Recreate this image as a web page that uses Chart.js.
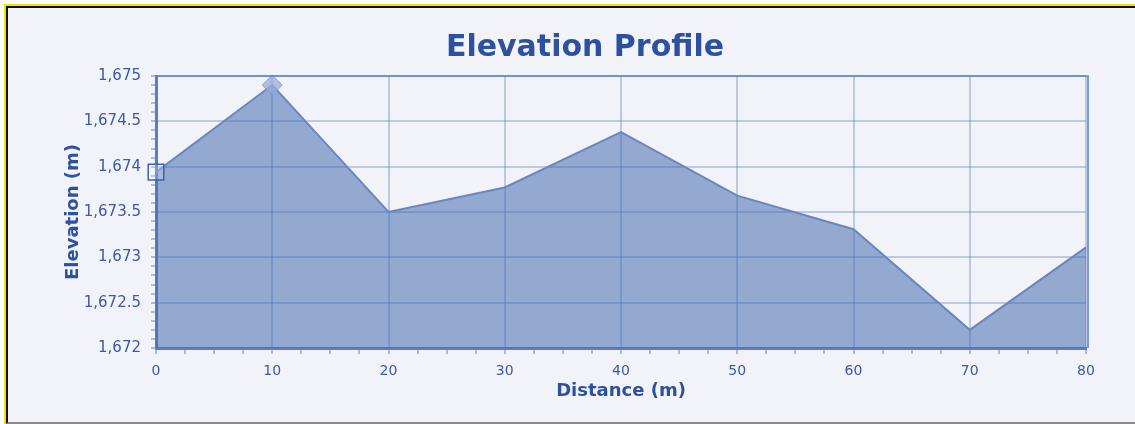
<!DOCTYPE html>
<html>
<head>
<meta charset="utf-8">
<script src="https://cdn.jsdelivr.net/npm/chart.js@4/dist/chart.umd.min.js"></script>
<style>
    html, body { margin: 0; padding: 0; background: #ffffff; }
    #frame {
        position: absolute; left: 4px; top: 4px; right: 0; bottom: 0;
        border-top: 2px solid #efe400; border-left: 2px solid #efe400;
    }
    #inner {
        position: absolute; left: 0; top: 0; right: 0; bottom: 0;
        border-top: 2px solid #111; border-left: 2px solid #111;
        border-bottom: 2px solid #8a8a8a;
        background: #f1f3f8;
    }
    #wrap { position: absolute; left: 0; top: 0; width: 1135px; height: 424px; }
    #chartTitle {
        position: absolute; left: 0; top: 28px; width: 1170px;
        text-align: center; line-height: 36px;
        font: bold 30px "DejaVu Sans", sans-serif; color: #2d519f;
    }
</style>
</head>
<body>
<div id="frame"><div id="inner"></div></div>
<div id="wrap"><canvas id="elevationChart" width="1135" height="424"></canvas></div>
<div id="chartTitle">Elevation Profile</div>
<script>
// distance along the profile (m) and elevation (m)
const distances = [0, 10, 20, 30, 40, 50, 60, 70, 80];
const elevations = [1673.94, 1674.9, 1673.5, 1673.77, 1674.38, 1673.68, 1673.31, 1672.2, 1673.11];
const yTicks = [1672, 1672.5, 1673, 1673.5, 1674, 1674.5, 1675];
const xTicks = [0, 10, 20, 30, 40, 50, 60, 70, 80];

const blue = '#2d519f';
const tickBlue = '#3a5aa8';
const majorGrid = 'rgba(80, 115, 190, 0.33)';

function isMajorY(v) {
    return yTicks.some(t => Math.abs(t - v) < 1e-6);
}
function isMajorX(v) {
    return xTicks.some(t => Math.abs(t - v) < 1e-6);
}

// box round the plot (top and right edges)
const plotFrame = {
    id: 'plotFrame',
    afterDatasetsDraw(chart) {
        const a = chart.chartArea;
        const ctx = chart.ctx;
        ctx.save();
        ctx.strokeStyle = 'rgba(90, 125, 195, 0.75)';
        ctx.lineWidth = 2;
        ctx.beginPath();
        ctx.moveTo(a.left, a.top);
        ctx.lineTo(a.right + 2, a.top);
        ctx.lineTo(a.right + 2, a.bottom);
        ctx.stroke();
        ctx.restore();
    }
};

document.addEventListener('DOMContentLoaded', function() {
    const ctx = document.getElementById('elevationChart').getContext('2d');
    new Chart(ctx, {
        type: 'line',
        data: {
            datasets: [{
                label: 'Elevation',
                data: distances.map((d, i) => ({ x: d, y: elevations[i] })),
                borderColor: '#6a86c1',
                borderWidth: 2,
                backgroundColor: 'rgba(70, 107, 175, 0.55)',
                fill: 'start',
                tension: 0,
                clip: 14,
                pointStyle: ['rect', 'rectRot', false, false, false, false, false, false, false],
                pointRadius: [11, 10, 0, 0, 0, 0, 0, 0, 0],
                pointBackgroundColor: ['rgba(255, 255, 255, 0.2)', 'rgba(150, 172, 214, 0.75)'],
                pointBorderColor: ['#3d63b0', 'rgba(120, 150, 205, 0.85)'],
                pointBorderWidth: [1.5, 1]
            }]
        },
        options: {
            responsive: false,
            animation: false,
            layout: { padding: { left: 0, right: 49, top: 76, bottom: 0 } },
            plugins: {
                legend: { display: false },
                tooltip: { enabled: false },
                title: { display: false }
            },
            scales: {
                x: {
                    type: 'linear',
                    min: 0,
                    max: 80,
                    afterFit: scale => { scale.height = 76; },
                    ticks: {
                        stepSize: 2.5,
                        autoSkip: false,
                        maxRotation: 0,
                        padding: 9,
                        color: tickBlue,
                        font: { family: 'DejaVu Sans', size: 14 },
                        callback: v => isMajorX(v) ? String(Math.round(v)) : ''
                    },
                    grid: {
                        color: c => isMajorX(c.tick.value) ? majorGrid : 'rgba(0,0,0,0)',
                        tickColor: '#a9badd',
                        tickLength: 6,
                        lineWidth: 2
                    },
                    border: { display: true, color: '#5b7dc1', width: 3 },
                    title: {
                        display: true,
                        text: 'Distance (m)',
                        color: blue,
                        font: { family: 'DejaVu Sans', size: 18, weight: 'bold' },
                        padding: { top: 0, bottom: 22 }
                    }
                },
                y: {
                    min: 1672,
                    max: 1675,
                    afterFit: scale => { scale.width = 156; },
                    ticks: {
                        stepSize: 0.1,
                        autoSkip: false,
                        padding: 10,
                        color: tickBlue,
                        font: { family: 'DejaVu Sans', size: 15 },
                        callback: v => isMajorY(v)
                            ? Number(v).toLocaleString('en-US', { maximumFractionDigits: 1 })
                            : ''
                    },
                    grid: {
                        color: c => isMajorY(c.tick.value) ? majorGrid : 'rgba(0,0,0,0)',
                        tickColor: '#a9badd',
                        tickLength: 5,
                        lineWidth: 2
                    },
                    border: { display: true, color: '#5b7dc1', width: 3 },
                    title: {
                        display: true,
                        text: 'Elevation (m)',
                        color: blue,
                        font: { family: 'DejaVu Sans', size: 18, weight: 'bold' },
                        padding: { top: 63, bottom: 0 }
                    }
                }
            }
        },
        plugins: [plotFrame]
    });
});
</script>
</body>
</html>
